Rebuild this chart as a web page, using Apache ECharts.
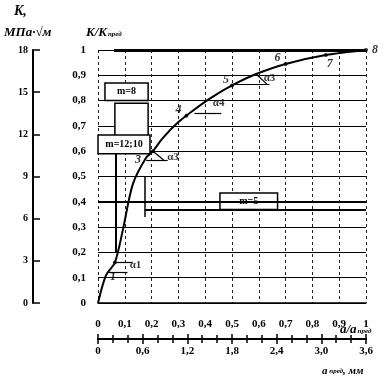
<!DOCTYPE html>
<html>
<head>
<meta charset="utf-8">
<script src="https://cdn.jsdelivr.net/npm/echarts@6/dist/echarts.min.js"></script>
<style>
  html, body { margin: 0; padding: 0; background: #fff; }
  #chart { width: 391px; height: 385px; }
</style>
</head>
<body>
<div id="chart"></div>
<script>
// curve K/Kpred vs a/apred
const curveX = [0, 0.03, 0.063, 0.093, 0.13, 0.18, 0.205, 0.24, 0.30, 0.36, 0.42, 0.50, 0.59, 0.70, 0.85, 1.0];
const curveY = [0, 0.11, 0.16, 0.29, 0.47, 0.575, 0.60, 0.65, 0.715, 0.765, 0.81, 0.86, 0.905, 0.945, 0.98, 1.0];

// numbered points on the curve
const pointNames = ["1", "3", "4", "5", "6", "7", "8"];
const pointX = [0.063, 0.205, 0.33, 0.50, 0.70, 0.85, 1.0];
const pointY = [0.16, 0.60, 0.74, 0.86, 0.945, 0.98, 1.0];
const pointLabelOffset = [[-2, 14], [-15, 9], [-8, -6], [-6, -6], [-8, -6], [4, 9], [9, 0]];

// angle labels
const alphaNames = ["α1", "α3", "α4", "α3"];
const alphaX = [0.14, 0.28, 0.45, 0.64];
const alphaY = [0.15, 0.575, 0.79, 0.89];

// m boxes: [x1, y1, x2, y2]
const boxNames = ["m=8", "", "m=12;10", "m=5"];
const boxRects = [
  [0.026, 0.80, 0.187, 0.87],
  [0.063, 0.66, 0.187, 0.79],
  [0.0, 0.59, 0.194, 0.664],
  [0.455, 0.37, 0.67, 0.435]
];

// extra solid lines of the drawing: [x1, y1, x2, y2, width]
const extraLines = [
  [0.06, 1, 1, 1, 3],
  [0, 0.4, 1, 0.4, 2],
  [0.175, 0.37, 1, 0.37, 2],
  [0.175, 0.34, 0.175, 0.5, 1.5],
  [0.067, 0.2, 0.067, 0.59, 2],
  // tangent marks
  [0.063, 0.16, 0.13, 0.16, 1.2],
  [0.04, 0.12, 0.11, 0.12, 1.2],
  [0.18, 0.565, 0.26, 0.565, 1.2],
  [0.205, 0.6, 0.245, 0.565, 1.2],
  [0.36, 0.75, 0.46, 0.75, 1.2],
  [0.50, 0.865, 0.64, 0.865, 1.2],
  [0.59, 0.905, 0.63, 0.865, 1.2]
];

const font = "Liberation Serif";
const comma = v => Number.isInteger(v) ? String(v) : v.toFixed(1).replace(".", ",");
const commaMm = v => v === 0 ? "0" : v.toFixed(1).replace(".", ",");

const chart = echarts.init(document.getElementById("chart"));

chart.setOption({
  animation: false,
  backgroundColor: "#fff",
  grid: { left: 98, right: 25, top: 50, bottom: 82 },
  xAxis: [
    {
      type: "value", min: 0, max: 1, interval: 0.1, position: "bottom",
      axisLine: { show: true, onZero: false, lineStyle: { color: "#000", width: 1.5 } },
      axisTick: { show: false },
      axisLabel: { color: "#000", fontFamily: font, fontWeight: "bold", fontSize: 11, margin: 16, formatter: comma },
      splitLine: { show: true, lineStyle: { color: "#222", width: 1, type: [3, 3] } }
    },
    {
      type: "value", min: 0, max: 3.6, interval: 0.6, position: "bottom", offset: 36,
      axisLine: { show: true, onZero: false, lineStyle: { color: "#000", width: 2 } },
      axisTick: { show: true, length: 5, lineStyle: { color: "#000", width: 1.5 } },
      minorTick: { show: true, splitNumber: 3, length: 4, lineStyle: { color: "#000", width: 1.5 } },
      axisLabel: { color: "#000", fontFamily: font, fontWeight: "bold", fontSize: 11, margin: 7, formatter: commaMm },
      splitLine: { show: false }
    },
    {
      type: "value", min: 0, max: 3.6, interval: 0.6, position: "bottom", offset: 36,
      axisLine: { show: false, onZero: false },
      axisTick: { show: true, inside: true, length: 5, lineStyle: { color: "#000", width: 1.5 } },
      minorTick: { show: true, splitNumber: 3, length: 4, lineStyle: { color: "#000", width: 1.5 } },
      axisLabel: { show: false },
      splitLine: { show: false }
    }
  ],
  yAxis: [
    {
      type: "value", min: 0, max: 1, interval: 0.1,
      axisLine: { show: false, onZero: false },
      axisTick: { show: false },
      axisLabel: { color: "#000", fontFamily: font, fontWeight: "bold", fontSize: 11, margin: 12, formatter: comma },
      splitLine: { show: true, lineStyle: { color: "#000", width: 1.2 } }
    },
    {
      type: "value", min: 0, max: 18, interval: 3, position: "left", offset: 65,
      axisLine: { show: true, onZero: false, lineStyle: { color: "#000", width: 2 } },
      axisTick: { show: true, inside: true, length: 7, lineStyle: { color: "#000", width: 1.5 } },
      axisLabel: { color: "#000", fontFamily: font, fontWeight: "bold", fontSize: 10, margin: 5 },
      splitLine: { show: false }
    }
  ],
  series: [
    {
      type: "line",
      xAxisIndex: 0, yAxisIndex: 0,
      data: curveX.map((x, i) => [x, curveY[i]]),
      smooth: 0.3,
      symbol: "none",
      lineStyle: { color: "#000", width: 2 },
      z: 5,
      markArea: {
        silent: true,
        itemStyle: { color: "#fff", borderColor: "#000", borderWidth: 1.5 },
        label: { show: true, position: "inside", color: "#000", fontFamily: font, fontWeight: "bold", fontSize: 10 },
        data: boxRects.map((r, i) => [
          { coord: [r[0], r[1]], name: boxNames[i] },
          { coord: [r[2], r[3]] }
        ])
      },
      markLine: {
        silent: true,
        symbol: "none",
        label: { show: false },
        data: extraLines.map(l => [
          { coord: [l[0], l[1]], lineStyle: { color: "#000", width: l[4], type: "solid" } },
          { coord: [l[2], l[3]] }
        ])
      }
    },
    {
      type: "scatter",
      xAxisIndex: 0, yAxisIndex: 0,
      symbol: "circle",
      symbolSize: 4,
      itemStyle: { color: "#000" },
      z: 6,
      data: pointX.map((x, i) => ({
        value: [x, pointY[i]],
        label: { show: true, position: "inside", offset: pointLabelOffset[i], formatter: pointNames[i] }
      })),
      label: { color: "#000", fontFamily: font, fontWeight: "bold", fontStyle: "italic", fontSize: 12 }
    },
    {
      type: "scatter",
      xAxisIndex: 0, yAxisIndex: 0,
      symbolSize: 0,
      z: 6,
      data: alphaX.map((x, i) => ({ value: [x, alphaY[i]], name: alphaNames[i] })),
      label: {
        show: true, position: "inside", formatter: p => p.name,
        color: "#000", fontFamily: font, fontWeight: "bold", fontSize: 11
      }
    }
  ],
  graphic: [
    { type: "text", left: 14, top: 4, style: { text: "K,", font: "italic bold 14px " + font, fill: "#000" } },
    { type: "text", left: 4, top: 26, style: { text: "МПа·√м", font: "italic bold 13px " + font, fill: "#000" } },
    {
      type: "text", left: 86, top: 26,
      style: {
        text: "{a|K/K}{s|пред}",
        rich: {
          a: { font: "italic bold 13px " + font, fill: "#000" },
          s: { font: "italic bold 7px " + font, fill: "#000", padding: [4, 0, 0, 1] }
        }
      }
    },
    {
      type: "text", left: 340, top: 323,
      style: {
        text: "{a|a/a}{s|пред}",
        rich: {
          a: { font: "italic bold 13px " + font, fill: "#000" },
          s: { font: "italic bold 7px " + font, fill: "#000", padding: [4, 0, 0, 1] }
        }
      }
    },
    {
      type: "text", left: 322, top: 366,
      style: {
        text: "{a|a}{s| пред}{a|, мм}",
        rich: {
          a: { font: "italic bold 11px " + font, fill: "#000" },
          s: { font: "italic bold 7px " + font, fill: "#000" }
        }
      }
    }
  ]
});
</script>
</body>
</html>
